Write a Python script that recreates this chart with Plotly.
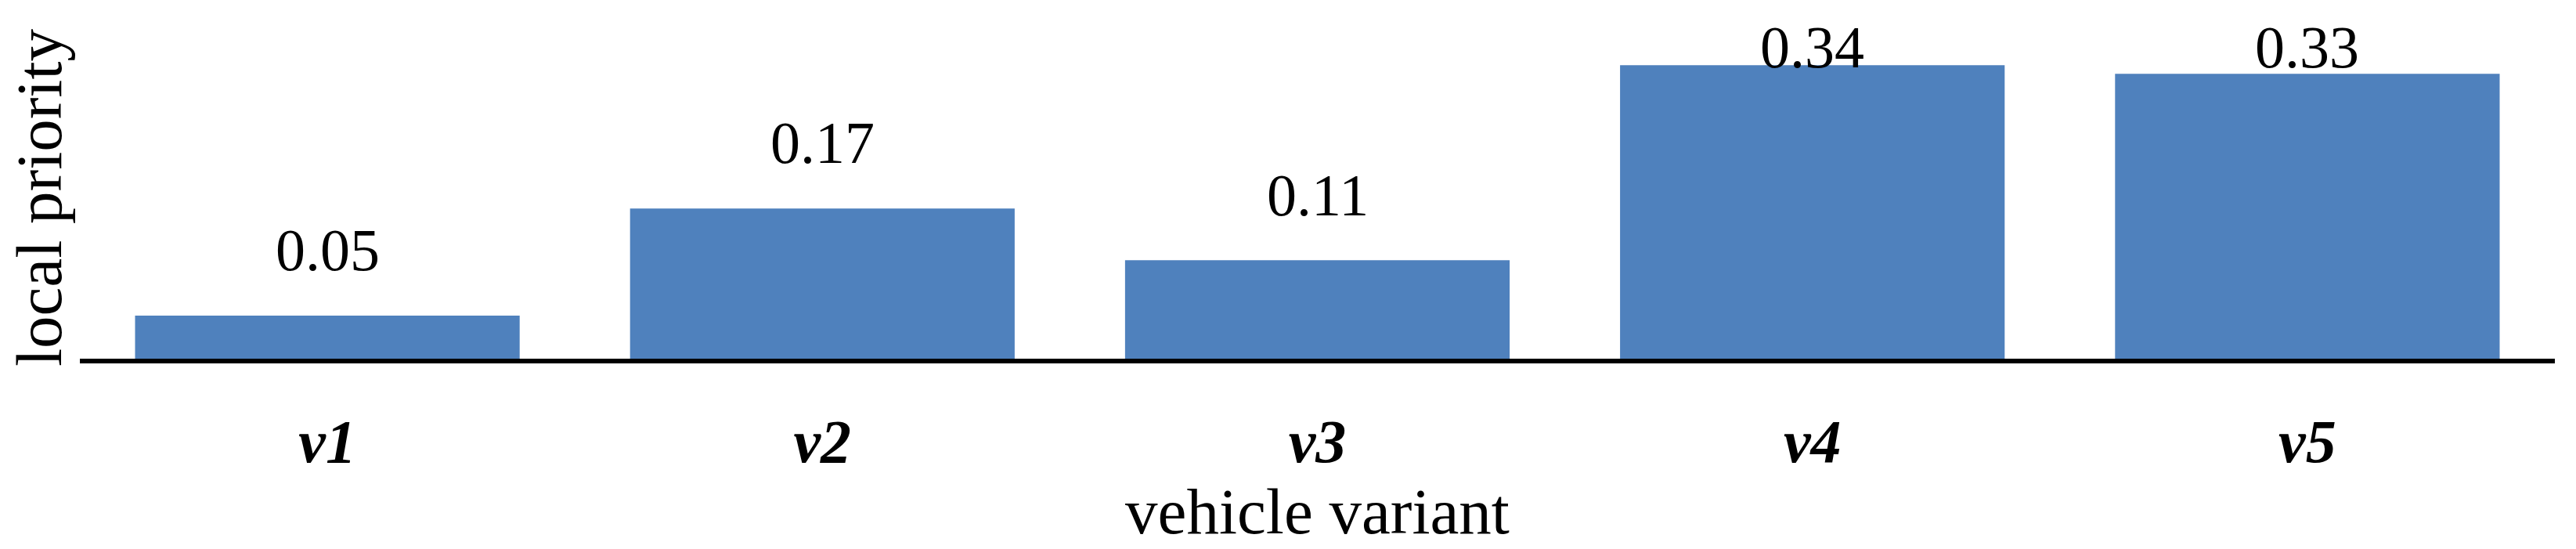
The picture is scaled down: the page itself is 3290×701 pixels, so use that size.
import plotly.graph_objects as go

categories = ["v1", "v2", "v3", "v4", "v5"]
values = [0.05, 0.174, 0.114, 0.34, 0.33]
value_labels = ["0.05", "0.17", "0.11", "0.34", "0.33"]
tick_labels = ["<b><i>v1</i></b>", "<b><i>v2</i></b>", "<b><i>v3</i></b>", "<b><i>v4</i></b>", "<b><i>v5</i></b>"]

BAR_COLOR = "#4F81BD"
FONT = "Liberation Serif, Times New Roman, serif"
LABEL_OFFSET = 0.076   # label centre above bar top (data units)
LABEL_CAP = 0.361      # labels cannot go above the plot's top

fig = go.Figure()
fig.add_trace(go.Bar(
    x=categories, y=values,
    marker=dict(color=BAR_COLOR, line=dict(width=0)),
    hoverinfo="skip",
))

for c, v, t in zip(categories, values, value_labels):
    fig.add_annotation(
        x=c, y=min(v + LABEL_OFFSET, LABEL_CAP), text=t,
        showarrow=False, xanchor="center", yanchor="middle",
        font=dict(family=FONT, size=76, color="black"),
    )

# y-axis title (placed as rotated text left of the plot area)
fig.add_annotation(
    xref="paper", yref="paper", x=0, y=0.467, xshift=-52,
    text="local priority", textangle=-90, showarrow=False,
    xanchor="center", yanchor="middle",
    font=dict(family=FONT, size=83, color="black"),
)

fig.update_layout(
    width=3290, height=701,
    margin=dict(l=102, r=27, t=17, b=243, autoexpand=False),
    paper_bgcolor="white", plot_bgcolor="white",
    bargap=0.223,
    showlegend=False,
    font=dict(family=FONT, color="black"),
)
fig.update_xaxes(
    tickmode="array", tickvals=categories, ticktext=tick_labels,
    tickfont=dict(family=FONT, size=78, color="black"),
    ticks="outside", ticklen=32, tickcolor="rgba(0,0,0,0)",
    showline=True, linecolor="black", linewidth=6,
    showgrid=False, zeroline=False, automargin=False,
    range=[-0.5, 4.5],
    title=dict(text="vehicle variant", font=dict(family=FONT, size=83, color="black"), standoff=4),
)
fig.update_yaxes(
    range=[0, 0.4], automargin=False,
    showticklabels=False, ticks="", showgrid=False, zeroline=False, showline=False,
)

fig.write_html(
    "out.html",
    config={"displayModeBar": False},
    post_script="document.body.style.margin='0';document.body.style.overflow='hidden';",
)
